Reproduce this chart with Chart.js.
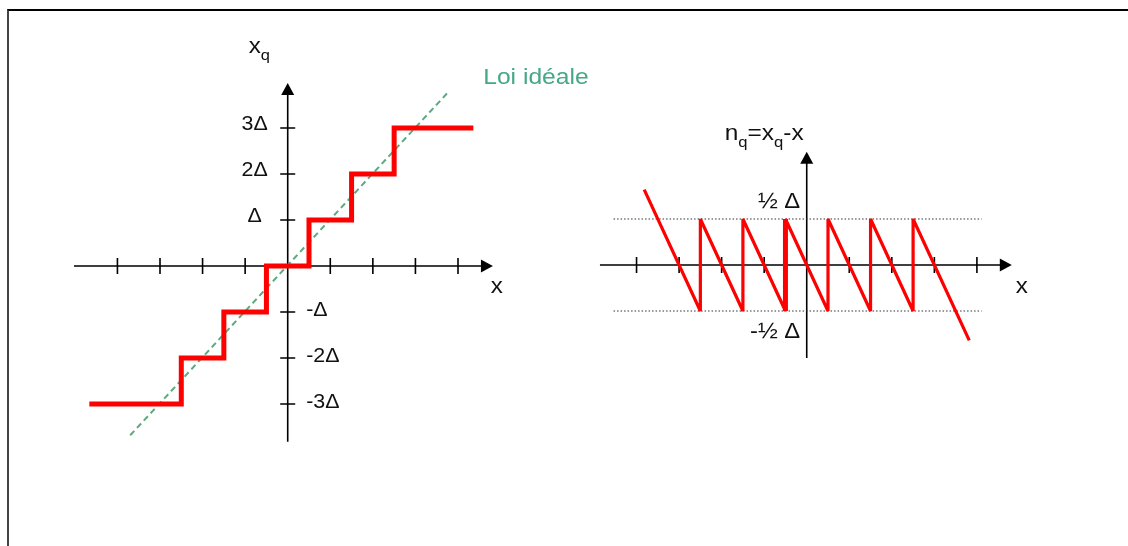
<!DOCTYPE html>
<html>
<head>
<meta charset="utf-8">
<script src="https://cdn.jsdelivr.net/npm/chart.js@4/dist/chart.umd.min.js"></script>
<style>
  html, body { margin: 0; padding: 0; background: #fff; width: 1128px; height: 546px; overflow: hidden; position: relative; }
  #frame { position: absolute; left: 7px; top: 9px; width: 1121px; height: 537px; border-top: 2px solid #000; border-left: 2px solid #444; box-sizing: border-box; }
  canvas { position: absolute; }
  #left { left: 11px; top: 36px; }
  #right { left: 594px; top: 104px; }
</style>
</head>
<body>
<div id="frame"></div>
<canvas id="left" width="596" height="460"></canvas>
<canvas id="right" width="468" height="299"></canvas>
<script>
// Quantizer characteristic x_q(x): breakpoints along x (units of Δ) and output levels
const stepEdges  = [-4.66, -2.5, -1.5, -0.5, 0.5, 1.5, 2.5, 4.36];
const stepLevels = [-3, -2, -1, 0, 1, 2, 3, 3];

// Ideal law x_q = x
const idealX = [-3.70, 3.77];
const idealY = [-3.68, 3.78];

// Quantization error n_q = x_q - x
const errorX = [-3.82, -2.5, -2.5, -1.5, -1.5, -0.5, -0.5, 0.5, 0.5, 1.5, 1.5, 2.5, 2.5, 3.82];
const errorY = [0.82, -0.5, 0.5, -0.5, 0.5, -0.5, 0.5, -0.5, 0.5, -0.5, 0.5, -0.5, 0.5, -0.82];

// Dotted bounds ±½Δ
const boundX = [-4.54, 4.11];
const boundLevels = [0.5, -0.5];
const boundLabels = ['½ Δ', '-½ Δ'];

// Axes: tick positions, level labels, drawn extents
const xTicks = [-4, -3, -2, -1, 1, 2, 3, 4];
const levelTicks  = [3, 2, 1, -1, -2, -3];
const levelLabels = ['3Δ', '2Δ', 'Δ', '-Δ', '-2Δ', '-3Δ'];
const leftAxisX  = [-5.02, 4.82];
const leftAxisY  = [-3.82, 3.98];
const rightAxisX = [-4.86, 4.82];
const rightAxisY = [-1.01, 1.23];

const FONT = "'Liberation Sans', Arial, sans-serif";
const INK = '#111';

function text(ctx, s, x, y, size, align, color, sx) {
  ctx.save();
  ctx.translate(x, y);
  ctx.scale(sx || 1, 1);
  ctx.font = size + 'px ' + FONT;
  ctx.textAlign = align;
  ctx.textBaseline = 'alphabetic';
  ctx.fillStyle = color || INK;
  ctx.fillText(s, 0, 0);
  ctx.restore();
}

// Left-aligned text with subscript parts
function richText(ctx, parts, x, y, size, subSize, subDrop, sx) {
  ctx.save();
  ctx.translate(x, y);
  ctx.scale(sx, 1);
  ctx.textAlign = 'left';
  ctx.textBaseline = 'alphabetic';
  ctx.fillStyle = INK;
  let cx = 0;
  parts.forEach(p => {
    ctx.font = (p.sub ? subSize : size) + 'px ' + FONT;
    ctx.fillText(p.t, cx, p.sub ? subDrop : 0);
    cx += ctx.measureText(p.t).width;
  });
  ctx.restore();
}

function arrowUp(ctx, x, y) {
  ctx.beginPath();
  ctx.moveTo(x, y);
  ctx.lineTo(x - 6.5, y + 12);
  ctx.lineTo(x + 6.5, y + 12);
  ctx.closePath();
  ctx.fill();
}
function arrowRight(ctx, x, y) {
  ctx.beginPath();
  ctx.moveTo(x, y);
  ctx.lineTo(x - 12, y - 6.5);
  ctx.lineTo(x - 12, y + 6.5);
  ctx.closePath();
  ctx.fill();
}

function drawAxes(chart, axX, axY, ticksX, ticksY) {
  const ctx = chart.ctx, sx = chart.scales.x, sy = chart.scales.y;
  const x0 = sx.getPixelForValue(0), y0 = sy.getPixelForValue(0);
  const xa = sx.getPixelForValue(axX[0]), xb = sx.getPixelForValue(axX[1]);
  const ya = sy.getPixelForValue(axY[0]), yb = sy.getPixelForValue(axY[1]);
  ctx.save();
  ctx.strokeStyle = '#000';
  ctx.fillStyle = '#000';
  ctx.lineWidth = 1.6;
  ctx.beginPath();
  ctx.moveTo(xa, y0); ctx.lineTo(xb - 10, y0);
  ctx.moveTo(x0, ya); ctx.lineTo(x0, yb + 10);
  ticksX.forEach(v => {
    const px = sx.getPixelForValue(v);
    ctx.moveTo(px, y0 - 8); ctx.lineTo(px, y0 + 8);
  });
  ticksY.forEach(v => {
    const py = sy.getPixelForValue(v);
    ctx.moveTo(x0 - 7.5, py); ctx.lineTo(x0 + 7.5, py);
  });
  ctx.stroke();
  arrowRight(ctx, xb, y0);
  arrowUp(ctx, x0, yb);
  ctx.restore();
}

const leftDecor = {
  id: 'leftDecor',
  beforeDatasetsDraw(chart) {
    drawAxes(chart, leftAxisX, leftAxisY, xTicks, levelTicks);
  },
  afterDatasetsDraw(chart) {
    const ctx = chart.ctx, sx = chart.scales.x, sy = chart.scales.y;
    const x0 = sx.getPixelForValue(0), y0 = sy.getPixelForValue(0);
    levelTicks.forEach((v, i) => {
      const py = sy.getPixelForValue(v);
      if (v > 0) text(ctx, levelLabels[i], x0 - 33, py + 1.5, 20, 'center', INK, 1.07);
      else text(ctx, levelLabels[i], x0 + 18.5, py + 3.5, 20, 'left', INK, 1.07);
    });
    const tipX = sx.getPixelForValue(leftAxisX[1]);
    const tipY = sy.getPixelForValue(leftAxisY[1]);
    text(ctx, 'x', tipX + 4, y0 + 27, 22, 'center', INK, 1.1);
    richText(ctx, [{ t: 'x' }, { t: 'q', sub: true }], x0 - 39, tipY - 29.5, 22, 15, 6.5, 1.1);
    const ex = sx.getPixelForValue(idealX[1]), ey = sy.getPixelForValue(idealY[1]);
    text(ctx, 'Loi idéale', ex + 35, ey - 8.5, 22, 'left', '#45a886', 1.12);
  }
};

const rightDecor = {
  id: 'rightDecor',
  beforeDatasetsDraw(chart) {
    drawAxes(chart, rightAxisX, rightAxisY, xTicks, []);
  },
  afterDatasetsDraw(chart) {
    const ctx = chart.ctx, sx = chart.scales.x, sy = chart.scales.y;
    const x0 = sx.getPixelForValue(0), y0 = sy.getPixelForValue(0);
    const up = sy.getPixelForValue(boundLevels[0]);
    const dn = sy.getPixelForValue(boundLevels[1]);
    text(ctx, boundLabels[0], x0 - 6.5, up - 11, 22, 'right', INK, 1.08);
    text(ctx, boundLabels[1], x0 - 6.5, dn + 26.5, 22, 'right', INK, 1.08);
    const tipX = sx.getPixelForValue(rightAxisX[1]);
    const tipY = sy.getPixelForValue(rightAxisY[1]);
    text(ctx, 'x', tipX + 10, y0 + 28, 22, 'center', INK, 1.1);
    richText(ctx, [{ t: 'n' }, { t: 'q', sub: true }, { t: '=x' }, { t: 'q', sub: true }, { t: '-x' }],
      x0 - 82, tipY - 11.5, 22, 15, 6.5, 1.11);
  }
};

const baseOptions = (xr, yr) => ({
  responsive: false,
  animation: false,
  events: [],
  layout: { padding: 0 },
  plugins: { legend: { display: false }, tooltip: { enabled: false } },
  scales: {
    x: { type: 'linear', min: xr[0], max: xr[1], display: false },
    y: { type: 'linear', min: yr[0], max: yr[1], display: false }
  }
});

new Chart(document.getElementById('left'), {
  type: 'line',
  data: {
    datasets: [
      {
        label: 'x_q',
        data: stepEdges.map((x, i) => ({ x, y: stepLevels[i] })),
        stepped: true,
        borderColor: '#ff0000',
        borderWidth: 5,
        borderCapStyle: 'butt',
        borderJoinStyle: 'miter',
        pointRadius: 0,
        fill: false
      },
      {
        label: 'Loi idéale',
        data: idealX.map((x, i) => ({ x, y: idealY[i] })),
        borderColor: '#5aab7d',
        borderWidth: 2,
        borderDash: [6, 4],
        pointRadius: 0,
        fill: false
      }
    ]
  },
  options: baseOptions([-6.5, 7.5], [-5, 5]),
  plugins: [leftDecor]
});

new Chart(document.getElementById('right'), {
  type: 'line',
  data: {
    datasets: [
      {
        label: 'n_q',
        data: errorX.map((x, i) => ({ x, y: errorY[i] })),
        borderColor: '#ff0000',
        borderWidth: 3.2,
        borderJoinStyle: 'bevel',
        pointRadius: 0,
        fill: false,
        segment: {
          borderWidth: c => (c.p0.parsed.x === -0.5 && c.p1.parsed.x === -0.5) ? 5 : 3.2
        }
      },
      {
        label: '+½Δ',
        data: boundX.map(x => ({ x, y: boundLevels[0] })),
        borderColor: '#333',
        borderWidth: 1.2,
        borderDash: [1.5, 2],
        pointRadius: 0,
        fill: false
      },
      {
        label: '-½Δ',
        data: boundX.map(x => ({ x, y: boundLevels[1] })),
        borderColor: '#333',
        borderWidth: 1.2,
        borderDash: [1.5, 2],
        pointRadius: 0,
        fill: false
      }
    ]
  },
  options: baseOptions([-5, 6], [-1.5, 1.75]),
  plugins: [rightDecor]
});
</script>
</body>
</html>
